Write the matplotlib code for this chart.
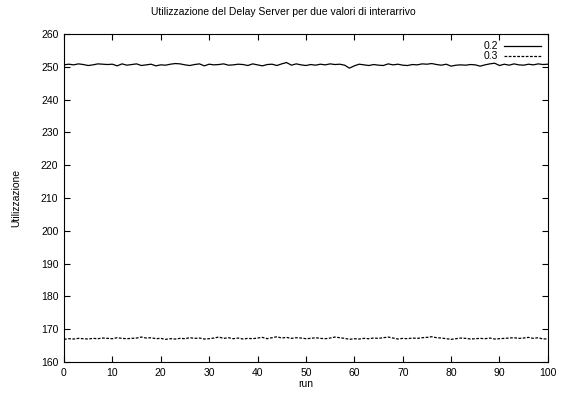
import matplotlib
matplotlib.use('Agg')
import matplotlib.pyplot as plt

plt.rcParams['font.family'] = ['Liberation Sans', 'DejaVu Sans']
plt.rcParams['font.size'] = 7.5

# utilizzazione per run, interarrivo 0.2 e 0.3
runs = list(range(0, 101))
util_02 = [250.6, 250.8, 250.6, 250.9, 250.7, 250.4, 250.6, 250.9, 250.8, 250.7,
           250.8, 250.3, 250.9, 250.5, 250.7, 250.9, 250.4, 250.6, 250.8, 250.3,
           250.6, 250.5, 250.8, 251.0, 250.9, 250.6, 250.4, 250.7, 250.9, 250.3,
           250.8, 250.6, 250.7, 250.9, 250.5, 250.6, 250.8, 250.7, 250.4, 250.9,
           250.6, 250.3, 250.7, 250.8, 250.4, 250.9, 251.3, 250.5, 250.9, 250.6,
           250.4, 250.7, 250.5, 250.8, 250.6, 250.9, 250.7, 250.8, 250.5, 249.6,
           250.3, 250.8, 250.6, 250.4, 250.7, 250.5, 250.4, 250.9, 250.6, 250.8,
           250.5, 250.4, 250.7, 250.6, 250.9, 250.8, 251.0, 250.7, 250.5, 250.8,
           250.2, 250.5, 250.6, 250.5, 250.7, 250.6, 250.2, 250.6, 250.9, 251.1,
           250.4, 250.8, 250.5, 250.9, 250.6, 250.5, 250.8, 250.6, 250.9, 250.7, 250.8]
util_03 = [166.9, 167.1, 167.0, 167.2, 167.1, 167.0, 167.2, 167.1, 167.3, 167.2,
           167.1, 167.4, 167.2, 167.1, 167.2, 167.3, 167.6, 167.3, 167.4, 167.1,
           167.2, 166.9, 167.1, 167.0, 167.2, 167.1, 167.4, 167.2, 167.3, 167.0,
           167.1, 167.3, 167.6, 167.2, 167.4, 167.1, 167.3, 167.0, 167.2, 167.1,
           167.3, 167.5, 167.1, 167.4, 167.7, 167.3, 167.5, 167.2, 167.4, 167.3,
           167.1, 167.2, 167.4, 167.2, 167.1, 167.3, 167.6, 167.4, 167.2, 166.9,
           167.1, 167.0, 167.2, 167.1, 167.3, 167.2, 167.4, 167.6, 167.3, 167.0,
           167.2, 167.1, 167.3, 167.2, 167.4, 167.5, 167.7, 167.4, 167.3, 167.1,
           166.9, 167.1, 167.3, 167.2, 167.0, 167.1, 167.2, 167.1, 167.3, 167.0,
           167.1, 167.2, 167.3, 167.4, 167.2, 167.3, 167.5, 167.2, 167.4, 167.0, 167.1]

fig = plt.figure(figsize=(5.66, 3.98), dpi=100)
ax = fig.add_axes([0.113, 0.0905, 0.855, 0.824])

ax.plot(runs, util_02, color='black', lw=0.9, label='0.2')
ax.plot(runs, util_03, color='black', lw=0.9, dashes=(2.2, 1.2), label='0.3')

ax.set_xlim(0, 100)
ax.set_ylim(160, 260)
ax.set_xticks(range(0, 101, 10))
ax.set_yticks(range(160, 261, 10))
ax.tick_params(direction='in', top=True, right=True, length=4, width=0.8, pad=4)
for sp in ax.spines.values():
    sp.set_linewidth(0.8)

# titolo centrato sulla figura
fig.text(0.5, 0.97, 'Utilizzazione del Delay Server per due valori di interarrivo',
         ha='center', va='center', fontsize=7.5)
ax.set_xlabel('run', labelpad=1)
ax.set_ylabel('Utilizzazione', labelpad=14)

ax.legend(loc='upper right', frameon=False, markerfirst=False, handlelength=3.5,
          handletextpad=0.6, labelspacing=0.0, borderaxespad=0.3, fontsize=7.5)

fig.savefig('out.png', dpi=100)
